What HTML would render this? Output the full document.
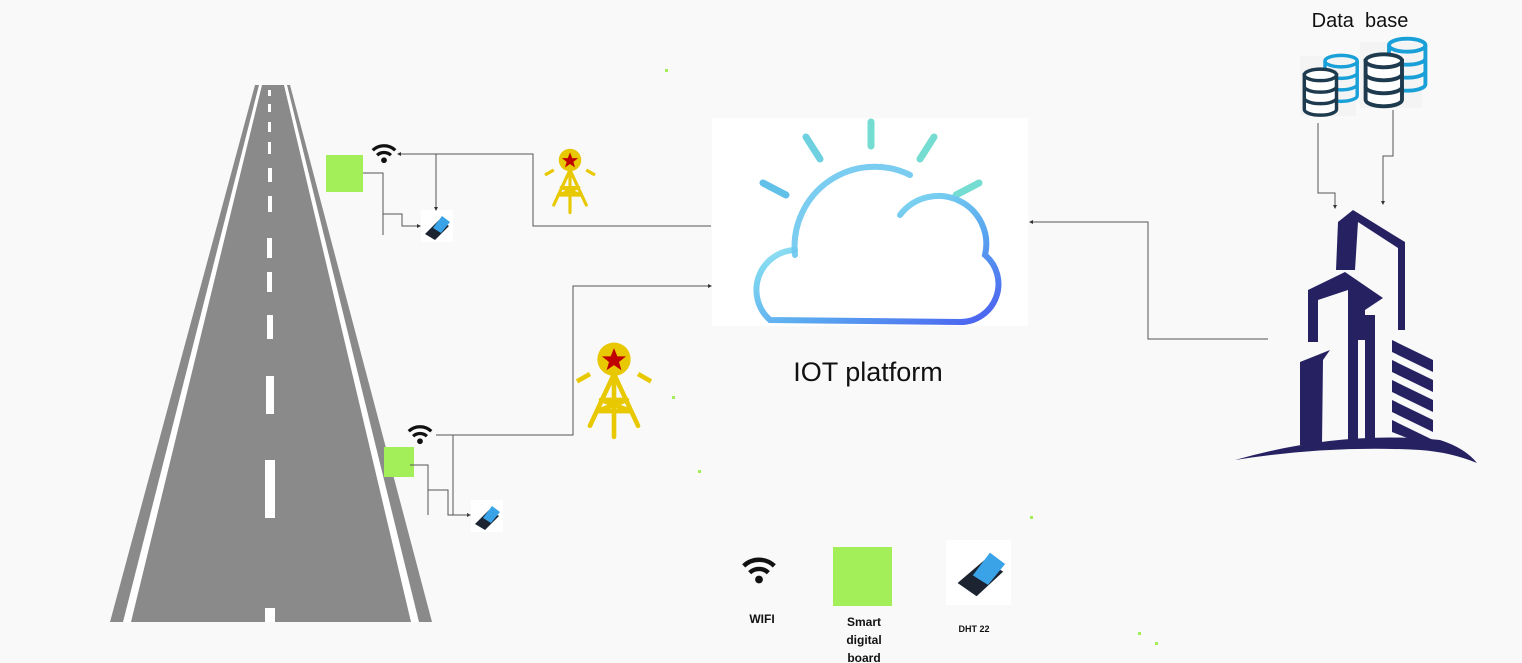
<!DOCTYPE html>
<html><head><meta charset="utf-8"><style>
html,body{margin:0;padding:0;background:#f9f9f9;}
svg{display:block;font-family:"Liberation Sans",sans-serif;}
</style></head><body>
<svg width="1522" height="663" viewBox="0 0 1522 663" xmlns="http://www.w3.org/2000/svg">
<defs>
<linearGradient id="cg" x1="0" y1="0" x2="1" y2="1">
<stop offset="0" stop-color="#ffffff"/><stop offset="0.3" stop-color="#7fd8f0"/><stop offset="0.6" stop-color="#5aa8f0"/><stop offset="1" stop-color="#4a5cf0"/>
</linearGradient>
<marker id="ar" markerWidth="4" markerHeight="4" refX="3" refY="2" orient="auto"><path d="M0,0L4,2L0,4z" fill="#333"/></marker>
<g id="wifi"><path d="M-9,-3 A13,13 0 0 1 9,-3" fill="none" stroke="#111" stroke-width="2.6"/><path d="M-5.5,1 A8,8 0 0 1 5.5,1" fill="none" stroke="#111" stroke-width="2.6"/><circle cx="0" cy="5" r="2.3" fill="#111"/></g>
<g id="dht"><rect x="0" y="0" width="32" height="32" fill="#fff"/><path d="M4,24 L14,30 L28,16 L18,10z" fill="#1b2430"/><path d="M12,18 L20,23 L29,12 L21,6z" fill="#3aa3e8"/></g>
<g id="tower"><path d="M-20,4 L-13,0 M20,4 L13,0" stroke="#e8c800" stroke-width="2.5"/><path d="M-13,28 L0,0 L13,28 M0,0 L0,34 M-7,14 L7,14 M-9,20 L9,20 M-7,14 L9,20 M7,14 L-9,20" stroke="#e8c800" stroke-width="2.5" fill="none" stroke-linecap="round"/><circle cx="0" cy="-8" r="9" fill="#e8c800"/><polygon points="0,-14 1.8,-9.5 6.5,-9.5 2.7,-6.5 4,-2 0,-4.8 -4,-2 -2.7,-6.5 -6.5,-9.5 -1.8,-9.5" fill="#c00000"/></g>
<g id="db"><g fill="none" stroke="#1aa0d8" stroke-width="3"><ellipse cx="14" cy="-6" rx="14" ry="5"/><path d="M0,-6 V24 A14,5 0 0 0 28,24 V-6 M0,4 A14,5 0 0 0 28,4 M0,14 A14,5 0 0 0 28,14"/></g><g fill="#fff" stroke="#1e3a4e" stroke-width="3"><path d="M-18,6 V36 A14,5 0 0 0 10,36 V6z"/><ellipse cx="-4" cy="6" rx="14" ry="5"/><path d="M-18,16 A14,5 0 0 0 10,16 M-18,26 A14,5 0 0 0 10,26" fill="none"/></g></g>
</defs>

<!-- road -->
<polygon points="255,85 290,85 432,622 110,622" fill="#8a8a8a"/>
<polygon points="259,85 262,85 131,622 123,622" fill="#fff"/>
<polygon points="284,85 287,85 419,622 411,622" fill="#fff"/>
<g fill="#fff">
<rect x="268" y="90" width="3" height="6"/><rect x="268" y="104" width="3" height="8"/><rect x="268" y="122" width="3" height="10"/><rect x="268" y="142" width="3" height="12"/><rect x="268" y="168" width="4" height="14"/><rect x="268" y="196" width="4" height="16"/><rect x="267" y="238" width="5" height="20"/><rect x="267" y="272" width="5" height="20"/><rect x="267" y="315" width="6" height="24"/><rect x="266" y="376" width="8" height="38"/><rect x="265" y="460" width="10" height="58"/><rect x="265" y="608" width="10" height="14"/>
</g>

<!-- upper cluster -->
<rect x="326" y="155" width="37" height="37" fill="#a3ef5a"/>
<use href="#wifi" transform="translate(384,154) scale(1.25)"/>
<use href="#dht" x="421" y="210"/>
<g fill="none" stroke="#555" stroke-width="1">
<path d="M363,173 H383 V235"/><path d="M383,214 H402 V226 H420" marker-end="url(#ar)"/>
<path d="M711,226 H533 V154 H398" marker-end="url(#ar)"/>
<path d="M436,154 V210" marker-end="url(#ar)"/>
</g>
<use href="#tower" transform="translate(570,170) scale(1.25)"/>

<!-- lower cluster -->
<rect x="384" y="447" width="30" height="30" fill="#a3ef5a"/>
<use href="#wifi" transform="translate(420,435) scale(1.25)"/>
<use href="#dht" x="471" y="500"/>
<g fill="none" stroke="#555" stroke-width="1">
<path d="M410,465 H428 V515"/><path d="M428,490 H448 V515 H470" marker-end="url(#ar)"/>
<path d="M436,435 H573 V286 H711" marker-end="url(#ar)"/>
<path d="M453,435 V515 H470"/>
</g>
<use href="#tower" transform="translate(614,374) scale(1.85)"/>

<!-- cloud -->
<rect x="712" y="118" width="316" height="208" fill="#fff"/>
<g stroke-linecap="round" stroke-width="7">
<line x1="871" y1="122" x2="871" y2="146" stroke="#74dcd0"/>
<line x1="806" y1="137" x2="820" y2="159" stroke="#6fd0e0"/>
<line x1="934" y1="137" x2="920" y2="159" stroke="#74dcd0"/>
<line x1="763" y1="183" x2="786" y2="195" stroke="#60c0e8"/>
<line x1="979" y1="183" x2="956" y2="195" stroke="#74dcd0"/>
</g>
<path d="M795,250 A40,40 0 0 0 770,320 L960,322 A38,38 0 0 0 985,255 A48,48 0 0 0 900,215" fill="none" stroke="url(#cg)" stroke-width="6" stroke-linecap="round"/>
<path d="M795,255 A80,80 0 0 1 910,175" fill="none" stroke="#6cc6f0" stroke-width="6" stroke-linecap="round" opacity="0.9"/>
<text x="868" y="381" font-size="27" text-anchor="middle" fill="#111">IOT platform</text>

<!-- DB -->
<text x="1360" y="27" font-size="20" text-anchor="middle" fill="#111" xml:space="preserve">Data  base</text>
<rect x="1300" y="56" width="56" height="60" fill="#f4f4f4"/>
<rect x="1360" y="42" width="62" height="66" fill="#f4f4f4"/>
<use href="#db" transform="translate(1325,68) scale(1.15)"/>
<use href="#db" transform="translate(1389,53) scale(1.3)"/>
<g fill="none" stroke="#555" stroke-width="1">
<path d="M1318,123 V193 H1335 V208" marker-end="url(#ar)"/>
<path d="M1393,110 V156 H1383 V204" marker-end="url(#ar)"/>
<path d="M1268,339 H1148 V222 H1030" marker-end="url(#ar)"/>
</g>

<!-- building -->
<g fill="#262262">
<path d="M1338,222 L1353,210 L1405,242 L1405,330 L1398,330 L1398,248 L1358,222 L1355,270 L1336,270z"/>
<path d="M1308,290 L1345,272 L1383,298 L1365,310 L1365,340 L1358,340 L1358,445 L1348,445 L1348,290 L1318,300 L1318,342 L1308,342z"/>
<path d="M1300,362 L1330,350 L1323,360 L1322,445 L1300,445z"/>
<path d="M1392,340 L1433,360 L1433,372 L1392,352z M1392,360 L1433,380 L1433,392 L1392,372z M1392,380 L1433,400 L1433,412 L1392,392z M1392,400 L1433,420 L1433,432 L1392,412z M1392,420 L1433,440 L1433,448 L1392,432z"/>
<path d="M1365,315 L1375,315 L1375,445 L1365,445z"/>
<path d="M1235,460 Q1340,430 1440,440 Q1465,448 1477,463 Q1450,452 1420,450 Q1330,445 1235,460z"/>
</g>

<!-- legend -->
<use href="#wifi" transform="translate(759,571) scale(1.7)"/>
<text x="762" y="623" font-size="12" font-weight="bold" text-anchor="middle" fill="#111">WIFI</text>
<rect x="833" y="547" width="59" height="59" fill="#a3ef5a"/>
<text x="864" y="626" font-size="12" font-weight="bold" text-anchor="middle" fill="#111">Smart</text>
<text x="864" y="644" font-size="12" font-weight="bold" text-anchor="middle" fill="#111">digital</text>
<text x="864" y="662" font-size="12" font-weight="bold" text-anchor="middle" fill="#111">board</text>
<rect x="946" y="540" width="65" height="65" fill="#fff"/>
<g transform="translate(950,545) scale(1.9)"><path d="M4,20 L14,27 L28,14 L18,8z" fill="#1b2430"/><path d="M12,16 L20,21 L29,10 L21,4z" fill="#3aa3e8"/></g>
<text x="974" y="632" font-size="9" font-weight="bold" text-anchor="middle" fill="#111">DHT 22</text>

<g fill="#a3ef5a"><rect x="665" y="69" width="3" height="3"/><rect x="672" y="396" width="3" height="3"/><rect x="698" y="470" width="3" height="3"/><rect x="1030" y="516" width="3" height="3"/><rect x="1138" y="632" width="3" height="3"/><rect x="1155" y="642" width="3" height="3"/></g>
</svg>
</body></html>
